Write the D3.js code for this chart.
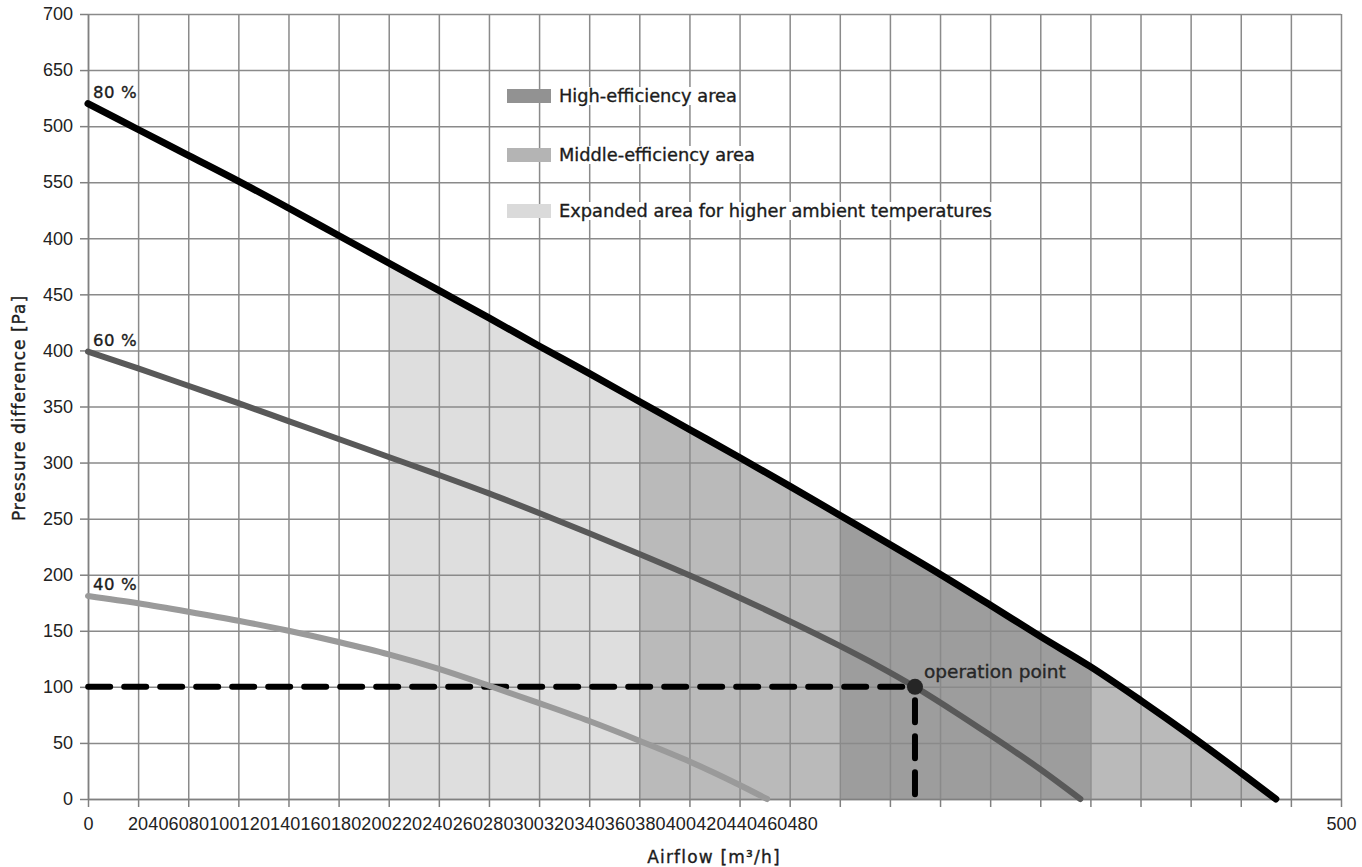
<!DOCTYPE html>
<html>
<head>
<meta charset="utf-8">
<script src="https://cdn.jsdelivr.net/npm/d3@7"></script>
<style>
  body { margin: 0; background: #fff; }
  svg { display: block; }
</style>
</head>
<body>
<div id="chart"></div>
<script>
// fan curve chart: pressure difference vs airflow

const width = 1362, height = 867;
const margin = { top: 14, right: 21, bottom: 68, left: 88 };

// axis ticks (labels copied as printed, including the misprints)
const yTickValues = [0, 50, 100, 150, 200, 250, 300, 350, 400, 450, 500, 550, 600, 650, 700];
const yTickLabels = ["0", "50", "100", "150", "200", "250", "300", "350", "400", "450", "400", "550", "500", "650", "700"];
const xTickValues = [0, 20, 40, 60, 80, 100, 120, 140, 160, 180, 200, 220, 240, 260, 280, 300, 320, 340, 360, 380, 400, 420, 440, 460, 480, 500];
const xTickLabels = ["0", "20", "40", "60", "80", "100", "120", "140", "160", "180", "200", "220", "240", "260", "280", "300", "320", "340", "360", "380", "400", "420", "440", "460", "480", "500"];

// fan curves
const curveNames = ["80 %", "60 %", "40 %"];
const airflow80 = [0, 20, 40, 60, 80, 100, 120, 140, 160, 180, 200, 220, 240, 260, 280, 300, 320, 340, 360, 380, 400, 420, 440, 460, 474];
const pressure80 = [620, 597, 574, 551, 527, 502.5, 478, 453.5, 429, 404, 379.5, 354.5, 329.5, 304.5, 279, 253, 227, 200.5, 173, 145, 118, 88, 56.5, 23.5, 0];
const airflow60 = [0, 20, 40, 60, 80, 100, 120, 140, 160, 180, 200, 220, 240, 260, 280, 300, 315, 330, 345, 360, 380, 396];
const pressure60 = [399, 384, 368.5, 353, 337, 321, 305, 289, 272.5, 255, 237, 218.5, 199.5, 179.5, 158.5, 136.5, 119, 100, 79, 57, 26.5, 0];
const airflow40 = [0, 20, 40, 60, 80, 100, 120, 140, 160, 180, 200, 220, 240, 260, 271];
const pressure40 = [181, 174.5, 167, 159, 150, 140, 129, 116, 101, 85.5, 69.5, 52, 33.5, 12.5, 0];

// efficiency areas under the 80 % curve
const areaNames = ["High-efficiency area", "Middle-efficiency area", "Expanded area for higher ambient temperatures"];
const areaKey = ["high", "middle", "expanded"];
const bandKey = ["expanded", "middle", "high", "middle"];
const bandStart = [120, 220, 300, 400];
const bandEnd = [220, 300, 400, 474];

// operation point
const opAirflow = 330, opPressure = 100;

const fills = { high: "#9d9d9d", middle: "#bababa", expanded: "#dedede" };
const swatches = { high: "#929292", middle: "#b4b4b4", expanded: "#dadada" };
const lineColors = ["#000000", "#595959", "#9a9a9a"];
const numFont = "'Liberation Sans', Arial, sans-serif";
const textFont = "'DejaVu Sans', sans-serif";

const x = d3.scaleLinear().domain([0, 500]).range([margin.left, width - margin.right]);
const y = d3.scaleLinear().domain([0, 700]).range([height - margin.bottom, margin.top]);

const svg = d3.select("#chart").append("svg")
  .attr("width", width)
  .attr("height", height);

const defs = svg.append("defs");

// fills
const area80 = d3.area()
  .x((d, i) => x(airflow80[i]))
  .y0(y(0))
  .y1((d, i) => y(pressure80[i]))
  .curve(d3.curveMonotoneX);

const band_g = svg.append("g").attr("id", "bands");
bandStart.forEach((b, i) => {
  defs.append("clipPath").attr("id", "band" + i)
    .append("rect")
      .attr("x", x(b))
      .attr("y", 0)
      .attr("width", x(bandEnd[i]) - x(b))
      .attr("height", height);
  band_g.append("path")
    .attr("d", area80(pressure80))
    .attr("fill", fills[bandKey[i]])
    .attr("clip-path", `url(#band${i})`);
});

// grid
const grid_g = svg.append("g").attr("id", "grid");
grid_g.append("g")
  .attr("transform", `translate(0,${y(0)})`)
  .call(d3.axisBottom(x).tickValues(xTickValues).tickSize(-(y(0) - y(700))).tickFormat(""))
  .call(g => g.select(".domain").remove());
grid_g.append("g")
  .attr("transform", `translate(${x(0)},0)`)
  .call(d3.axisLeft(y).tickValues(yTickValues).tickSize(-(x(500) - x(0))).tickFormat(""))
  .call(g => g.select(".domain").remove());
grid_g.selectAll("line").attr("stroke", "#8a8a8a").attr("stroke-width", 1.5);

// axes
const yAxis = svg.append("g")
  .attr("transform", `translate(${x(0)},0)`)
  .call(d3.axisLeft(y).tickValues(yTickValues)
    .tickFormat((d, i) => yTickLabels[i])
    .tickSize(8).tickSizeOuter(0).tickPadding(7));
const xAxis = svg.append("g")
  .attr("transform", `translate(0,${y(0)})`)
  .call(d3.axisBottom(x).tickValues(xTickValues)
    .tickFormat((d, i) => (i === 0 || i === xTickValues.length - 1) ? xTickLabels[i] : "")
    .tickSize(8).tickSizeOuter(0).tickPadding(10));
[yAxis, xAxis].forEach(a => {
  a.select(".domain").attr("stroke", "#808080").attr("stroke-width", 1.5);
  a.selectAll("line").attr("stroke", "#808080").attr("stroke-width", 1.5);
  a.selectAll("text").attr("font-family", numFont).attr("font-size", 18).attr("fill", "#222");
});

// the inner x labels are printed run together, starting under the 20 tick
const packed = svg.append("text")
  .attr("font-family", numFont)
  .attr("font-size", 18)
  .attr("letter-spacing", 0.13)
  .attr("fill", "#222")
  .attr("y", y(0) + 18)
  .attr("dy", "0.71em");
packed.selectAll("tspan")
  .data(xTickLabels.slice(1, -1))
  .join("tspan")
  .text(d => d);
const firstW = packed.select("tspan").node().getComputedTextLength();
packed.attr("x", x(xTickValues[1]) - firstW / 2);

// text in the geometric face is a bit heavier in the original
const heavy = sel => sel.attr("stroke", "#1c1c1c").attr("stroke-width", 0.35);

// axis titles
svg.append("text")
  .attr("x", 714)
  .attr("y", 863)
  .attr("text-anchor", "middle")
  .attr("font-family", textFont)
  .attr("font-size", 17)
  .attr("letter-spacing", 1.2)
  .attr("fill", "#1c1c1c")
  .text("Airflow [m³/h]")
  .call(heavy);
svg.append("text")
  .attr("transform", "translate(25,408) rotate(-90)")
  .attr("text-anchor", "middle")
  .attr("font-family", textFont)
  .attr("font-size", 17)
  .attr("letter-spacing", 1)
  .attr("fill", "#1c1c1c")
  .text("Pressure difference [Pa]")
  .call(heavy);

// dashed guide lines to the operation point
const dash_g = svg.append("g").attr("id", "guides");
dash_g.append("line")
  .attr("x1", x(opAirflow)).attr("x2", x(0))
  .attr("y1", y(opPressure)).attr("y2", y(opPressure))
  .attr("stroke-dashoffset", -12.8);
dash_g.append("line")
  .attr("x1", x(opAirflow)).attr("x2", x(opAirflow))
  .attr("y1", y(opPressure)).attr("y2", y(0) + 2)
  .attr("stroke-dashoffset", -13.3);
dash_g.selectAll("line")
  .attr("stroke", "#000")
  .attr("stroke-width", 6)
  .attr("stroke-linecap", "round")
  .attr("stroke-dasharray", "22 14");

// curves
const series = [
  { name: curveNames[0], xs: airflow80, ys: pressure80, w: 7 },
  { name: curveNames[1], xs: airflow60, ys: pressure60, w: 6 },
  { name: curveNames[2], xs: airflow40, ys: pressure40, w: 6 }
];
const line = d3.line().curve(d3.curveMonotoneX);
const curve_g = svg.append("g").attr("id", "curves");
curve_g.selectAll("path")
  .data(series.slice().reverse())
  .join("path")
    .attr("d", s => line(s.xs.map((v, i) => [x(v), y(s.ys[i])])))
    .attr("fill", "none")
    .attr("stroke", (s) => lineColors[series.indexOf(s)])
    .attr("stroke-width", s => s.w)
    .attr("stroke-linecap", "round");

curve_g.selectAll("text")
  .data(series)
  .join("text")
    .attr("x", s => x(s.xs[0]) + 5)
    .attr("y", s => y(s.ys[0]) - 6)
    .attr("font-family", textFont)
    .attr("font-size", 16.5)
    .attr("letter-spacing", 0.6)
    .attr("fill", "#1c1c1c")
    .text(s => s.name)
    .call(heavy);

// operation point
svg.append("circle")
  .attr("cx", x(opAirflow))
  .attr("cy", y(opPressure))
  .attr("r", 8)
  .attr("fill", "#262626");
svg.append("text")
  .attr("x", x(opAirflow) + 9)
  .attr("y", y(opPressure) - 9)
  .attr("font-family", textFont)
  .attr("font-size", 18.5)
  .attr("fill", "#2a2a2a")
  .text("operation point")
  .call(heavy);

// legend
const legend_g = svg.append("g").attr("id", "legend");
const legendRows = [0, 1, 2];
const lgY = [96, 155, 211];
legendRows.forEach(i => {
  const t = legend_g.append("text")
    .attr("x", 559)
    .attr("y", lgY[i] + 6)
    .attr("font-family", textFont)
    .attr("font-size", 17.8)
    .attr("fill", "#1c1c1c")
    .text(areaNames[i])
    .call(heavy);
  const bb = t.node().getBBox();
  legend_g.insert("rect", "text")
    .attr("x", bb.x - 2).attr("y", bb.y + 2)
    .attr("width", bb.width + 4).attr("height", bb.height - 3)
    .attr("fill", "#fff");
  legend_g.append("rect")
    .attr("x", 507).attr("y", lgY[i] - 7)
    .attr("width", 44).attr("height", 14)
    .attr("fill", swatches[areaKey[i]]);
});
</script>
</body>
</html>
